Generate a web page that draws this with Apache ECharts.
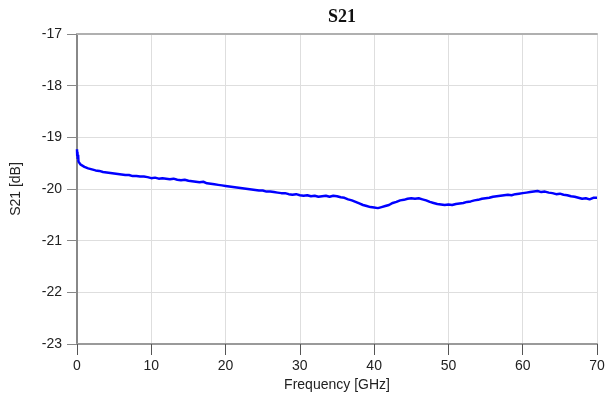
<!DOCTYPE html>
<html>
<head>
<meta charset="utf-8">
<script src="https://cdn.jsdelivr.net/npm/echarts@6/dist/echarts.min.js"></script>
<style>
html,body{margin:0;padding:0;background:#fff;}
#main{width:606px;height:403px;}
</style>
</head>
<body>
<div id="main"></div>
<script>
var freqGHz = [0,0.03,0.06,0.1,0.15,0.2,0.3,0.4,0.5,0.75,1,1.5,2,2.5,3,3.5,4,4.5,5,
  5.5,6,6.5,7,7.5,8,8.5,9,9.5,10,10.5,11,11.5,12,12.5,13,13.5,14,14.5,15,
  15.5,16,16.5,17,17.5,18,18.5,19,19.5,20,20.5,21,21.5,22,22.5,23,23.5,24,24.5,25,
  25.5,26,26.5,27,27.5,28,28.5,29,29.5,30,30.5,31,31.5,32,32.5,33,33.5,34,34.5,35,
  35.5,36,36.5,37,37.5,38,38.5,39,39.5,40,40.5,41,41.5,42,42.5,43,43.5,44,44.5,45,
  45.5,46,46.5,47,47.5,48,48.5,49,49.5,50,50.5,51,51.5,52,52.5,53,53.5,54,54.5,55,
  55.5,56,56.5,57,57.5,58,58.5,59,59.5,60,60.5,61,61.5,62,62.5,63,63.5,64,64.5,65,
  65.5,66,66.5,67,67.5,68,68.5,69,69.5,70];
var s21dB = [-19.23,-19.36,-19.28,-19.42,-19.34,-19.47,-19.50,-19.47,-19.53,-19.55,-19.57,-19.60,-19.62,-19.64,-19.65,-19.67,-19.68,-19.69,-19.70,
  -19.71,-19.72,-19.73,-19.73,-19.75,-19.75,-19.76,-19.76,-19.77,-19.79,-19.78,-19.80,-19.79,-19.80,-19.81,-19.80,-19.82,-19.83,-19.82,-19.84,
  -19.85,-19.86,-19.87,-19.86,-19.89,-19.90,-19.91,-19.92,-19.93,-19.94,-19.95,-19.96,-19.97,-19.98,-19.99,-20.00,-20.01,-20.02,-20.03,-20.03,
  -20.05,-20.05,-20.06,-20.07,-20.08,-20.08,-20.10,-20.11,-20.10,-20.12,-20.13,-20.12,-20.14,-20.13,-20.15,-20.14,-20.13,-20.15,-20.13,-20.14,
  -20.16,-20.17,-20.20,-20.22,-20.25,-20.28,-20.31,-20.33,-20.35,-20.36,-20.37,-20.35,-20.33,-20.31,-20.27,-20.25,-20.22,-20.21,-20.19,-20.18,
  -20.19,-20.18,-20.20,-20.22,-20.25,-20.27,-20.29,-20.30,-20.31,-20.30,-20.31,-20.29,-20.28,-20.27,-20.25,-20.24,-20.22,-20.21,-20.19,-20.18,
  -20.17,-20.15,-20.14,-20.13,-20.12,-20.11,-20.12,-20.10,-20.09,-20.08,-20.07,-20.06,-20.05,-20.04,-20.06,-20.05,-20.07,-20.08,-20.10,-20.09,
  -20.11,-20.12,-20.14,-20.15,-20.17,-20.19,-20.18,-20.20,-20.17,-20.17];
var xTicks = [0, 70, 10];
var yTicks = [-23, -17, 1];

var pts = [];
for (var i = 0; i < freqGHz.length; i++) {
  pts.push([freqGHz[i], s21dB[i]]);
}

var myChart = echarts.init(document.getElementById('main'));
var lbl = {color: '#222', fontSize: 14, fontFamily: 'Liberation Sans, Arial'};
myChart.setOption({
  animation: false,
  title: {
    text: 'S21',
    left: 337,
    top: 3,
    textAlign: 'center',
    textStyle: {fontFamily: 'Liberation Serif, Times New Roman', fontWeight: 'bold', fontSize: 18, color: '#111'}
  },
  grid: {left: 77, right: 9, top: 34, bottom: 59, containLabel: false, outerBoundsMode: 'none'},
  xAxis: [{
    type: 'value',
    min: xTicks[0], max: xTicks[1], interval: xTicks[2],
    name: 'Frequency [GHz]',
    nameLocation: 'middle',
    nameGap: 32,
    nameTextStyle: lbl,
    axisLine: {lineStyle: {color: '#9a9a9a', width: 2}},
    axisTick: {length: 11, lineStyle: {color: '#555'}},
    axisLabel: Object.assign({margin: 15}, lbl),
    splitLine: {lineStyle: {color: '#dedede'}}
  }, {
    type: 'value', position: 'top',
    min: xTicks[0], max: xTicks[1],
    axisLine: {show: true, lineStyle: {color: '#b0b0b0', width: 2}},
    axisTick: {show: false}, axisLabel: {show: false}, splitLine: {show: false}
  }],
  yAxis: [{
    type: 'value',
    min: yTicks[0], max: yTicks[1], interval: yTicks[2],
    name: 'S21 [dB]',
    nameLocation: 'middle',
    nameGap: 54,
    nameTextStyle: lbl,
    axisLine: {show: true, lineStyle: {color: '#666'}},
    axisTick: {show: true, length: 10, lineStyle: {color: '#888'}},
    axisLabel: Object.assign({margin: 15}, lbl),
    splitLine: {lineStyle: {color: '#dedede'}}
  }, {
    type: 'value', position: 'right',
    min: yTicks[0], max: yTicks[1],
    axisLine: {show: true, lineStyle: {color: '#888', width: 2}},
    axisTick: {show: false}, axisLabel: {show: false}, splitLine: {show: false}
  }],
  series: [{
    type: 'line',
    data: pts,
    showSymbol: false,
    lineStyle: {color: '#0000ff', width: 2.5},
    z: 5
  }]
});
</script>
</body>
</html>
